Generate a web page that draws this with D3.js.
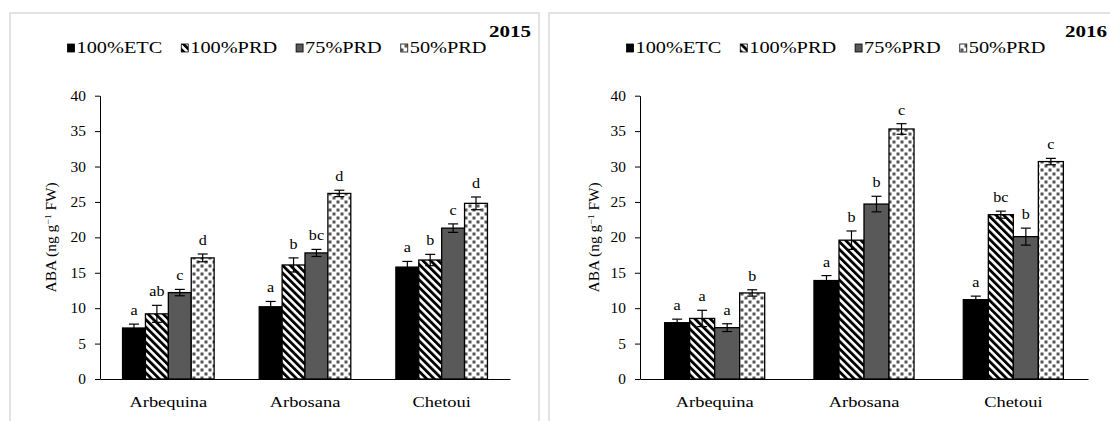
<!DOCTYPE html>
<html><head><meta charset="utf-8">
<script src="https://cdn.jsdelivr.net/npm/d3@7"></script>
<style>
html,body{margin:0;padding:0;background:#fff;}
svg{display:block;font-family:"Liberation Serif","Times New Roman",serif;}
</style></head>
<body><svg id="chart" width="1110" height="421"></svg>
<script>
// ---------- data ----------
const categories = ["Arbequina", "Arbosana", "Chetoui"];
const treatments = ["100%ETC", "100%PRD", "75%PRD", "50%PRD"];
const yTicks = [0, 5, 10, 15, 20, 25, 30, 35, 40];
const years = ["2015", "2016"];
const yLabelMain = "ABA (ng g";
const yLabelSup = "−1";
const yLabelEnd = " FW)";

const aba2015 = [[7.2, 9.2, 12.2, 17.1], [10.2, 16.1, 17.8, 26.2], [15.8, 16.8, 21.3, 24.8]];
const err2015 = [[0.55, 1.2, 0.45, 0.55], [0.75, 1.0, 0.5, 0.45], [0.8, 0.8, 0.6, 0.9]];
const letters2015 = [["a", "ab", "c", "d"], ["a", "b", "bc", "d"], ["a", "b", "c", "d"]];

const aba2016 = [[7.95, 8.55, 7.25, 12.15], [13.9, 19.6, 24.7, 35.3], [11.2, 23.2, 20.1, 30.7]];
const err2016 = [[0.5, 1.15, 0.55, 0.45], [0.7, 1.3, 1.1, 0.75], [0.5, 0.5, 1.2, 0.45]];
const letters2016 = [["a", "a", "a", "b"], ["a", "b", "b", "c"], ["a", "bc", "b", "c"]];

// ---------- layout ----------
const panels = [
  {year: years[0], values: aba2015, errs: err2015, letters: letters2015,
   frame: {x: 10, y: 13, w: 529}, plotX: [100, 510], labelX: 50.5, titleX: 531},
  {year: years[1], values: aba2016, errs: err2016, letters: letters2016,
   frame: {x: 549, y: 13, w: 620}, plotX: [640, 1088], labelX: 594, titleX: 1107}
];
const plotY = [379, 95.7];
const fills = ["#000000", "url(#stripes)", "#595959", "url(#dots)"];

const svg = d3.select("#chart");
const defs = svg.append("defs");
const sp = 5.4;
const st = defs.append("pattern").attr("id", "stripes").attr("patternUnits", "userSpaceOnUse")
  .attr("width", sp).attr("height", sp).attr("patternTransform", "rotate(-45)");
st.append("rect").attr("width", sp).attr("height", sp).attr("fill", "#fff");
st.append("rect").attr("width", sp * 0.52).attr("height", sp).attr("fill", "#000");
const dp = 8;
const dt = defs.append("pattern").attr("id", "dots").attr("patternUnits", "userSpaceOnUse")
  .attr("width", dp).attr("height", dp);
dt.append("rect").attr("width", dp).attr("height", dp).attr("fill", "#fff");
dt.append("rect").attr("x", 0.5).attr("y", 0.5).attr("width", 3).attr("height", 3).attr("fill", "#555");
dt.append("rect").attr("x", 4.5).attr("y", 4.5).attr("width", 3).attr("height", 3).attr("fill", "#555");

function stext(g, x, y, str, size, sx, anchor, weight) {
  return g.append("text")
    .attr("transform", `translate(${x},${y}) scale(${sx},1)`)
    .attr("text-anchor", anchor || "start")
    .style("font-size", size + "px")
    .style("font-weight", weight || "normal")
    .attr("fill", "#000")
    .text(str);
}

panels.forEach(p => {
  const g = svg.append("g");
  // frame
  g.append("rect").attr("x", p.frame.x).attr("y", p.frame.y)
    .attr("width", p.frame.w).attr("height", 440)
    .attr("fill", "none").attr("stroke", "#d9d9d9").attr("stroke-width", 1.5);

  const x = d3.scaleBand().domain(categories).range(p.plotX).padding(0);
  const y = d3.scaleLinear().domain([0, 40]).range(plotY);
  const groupW = x.bandwidth() * 0.67;
  const xs = d3.scaleBand().domain(treatments).range([-groupW / 2, groupW / 2]).padding(0);

  // y axis
  const ya = g.append("g").attr("transform", `translate(${p.plotX[0]},0)`)
    .call(d3.axisLeft(y).tickValues(yTicks).tickSize(5).tickSizeOuter(0).tickPadding(9));
  ya.select(".domain").attr("stroke", "#000").attr("stroke-width", 1);
  ya.selectAll(".tick line").attr("stroke", "#000");
  ya.selectAll(".tick text").style("font-size", "14px").style("font-family", "Liberation Serif")
    .attr("fill", "#000").attr("x", -14 / 1.1).attr("transform", "scale(1.1,1)");

  // bars
  categories.forEach((c, ci) => {
    const cx = x(c) + x.bandwidth() / 2;
    treatments.forEach((t, ti) => {
      const v = p.values[ci][ti], e = p.errs[ci][ti];
      const bx = cx + xs(t);
      g.append("rect").attr("x", bx).attr("y", y(v))
        .attr("width", xs.bandwidth()).attr("height", y(0) - y(v))
        .attr("fill", fills[ti]).attr("stroke", "#000").attr("stroke-width", 1.3);
      const mx = bx + xs.bandwidth() / 2;
      g.append("line").attr("x1", mx).attr("x2", mx).attr("y1", y(v - e)).attr("y2", y(v + e))
        .attr("stroke", "#000").attr("stroke-width", 1.2);
      [v - e, v + e].forEach(w => g.append("line").attr("x1", mx - 5).attr("x2", mx + 5)
        .attr("y1", y(w)).attr("y2", y(w)).attr("stroke", "#000").attr("stroke-width", 1.2));
      stext(g, mx, y(v + e) - 9, p.letters[ci][ti], 14, 1.15, "middle");
    });
  });

  // x axis
  const xa = g.append("g").attr("transform", `translate(0,${plotY[0]})`)
    .call(d3.axisBottom(x).tickSizeInner(0).tickSizeOuter(0).tickPadding(17.4));
  xa.select(".domain").attr("stroke", "#000").attr("stroke-width", 1.2);
  xa.selectAll(".tick text").style("font-size", "15px").style("font-family", "Liberation Serif")
    .attr("fill", "#000").attr("transform", "scale(1.23,1)");

  // y label
  const my = (plotY[0] + plotY[1]) / 2;
  const yl = g.append("text")
    .attr("transform", `translate(${p.labelX + 5},${my}) rotate(-90) scale(1.1,1)`)
    .attr("text-anchor", "middle").style("font-size", "14px").attr("fill", "#000");
  yl.append("tspan").text(yLabelMain);
  yl.append("tspan").attr("dy", -5).style("font-size", "9px").text(yLabelSup);
  yl.append("tspan").attr("dy", 5).text(yLabelEnd);

  // title
  stext(g, p.titleX, 36.5, p.year, 17.5, 1.2, "end", "bold");

  // legend
  const lg = g.append("g");
  const items = treatments.map((t, ti) => {
    const tx = stext(lg, 0, 52.5, t, 16, 1.27, "start");
    return {t, ti, el: tx, w: tx.node().getComputedTextLength() * 1.27};
  });
  const sq = 9, gap = 19;
  const total = d3.sum(items, d => d.w + sq) + gap * (items.length - 1);
  let cur = (p.plotX[0] + p.plotX[1]) / 2 - 28 - total / 2;
  items.forEach(d => {
    lg.append("rect").attr("x", cur).attr("y", 44).attr("width", 7).attr("height", 8)
      .attr("fill", fills[d.ti]).attr("stroke", "#000").attr("stroke-width", 0.8);
    d.el.attr("transform", `translate(${cur + sq},52.5) scale(1.27,1)`);
    cur += sq + d.w + gap;
  });
});
</script></body></html>
